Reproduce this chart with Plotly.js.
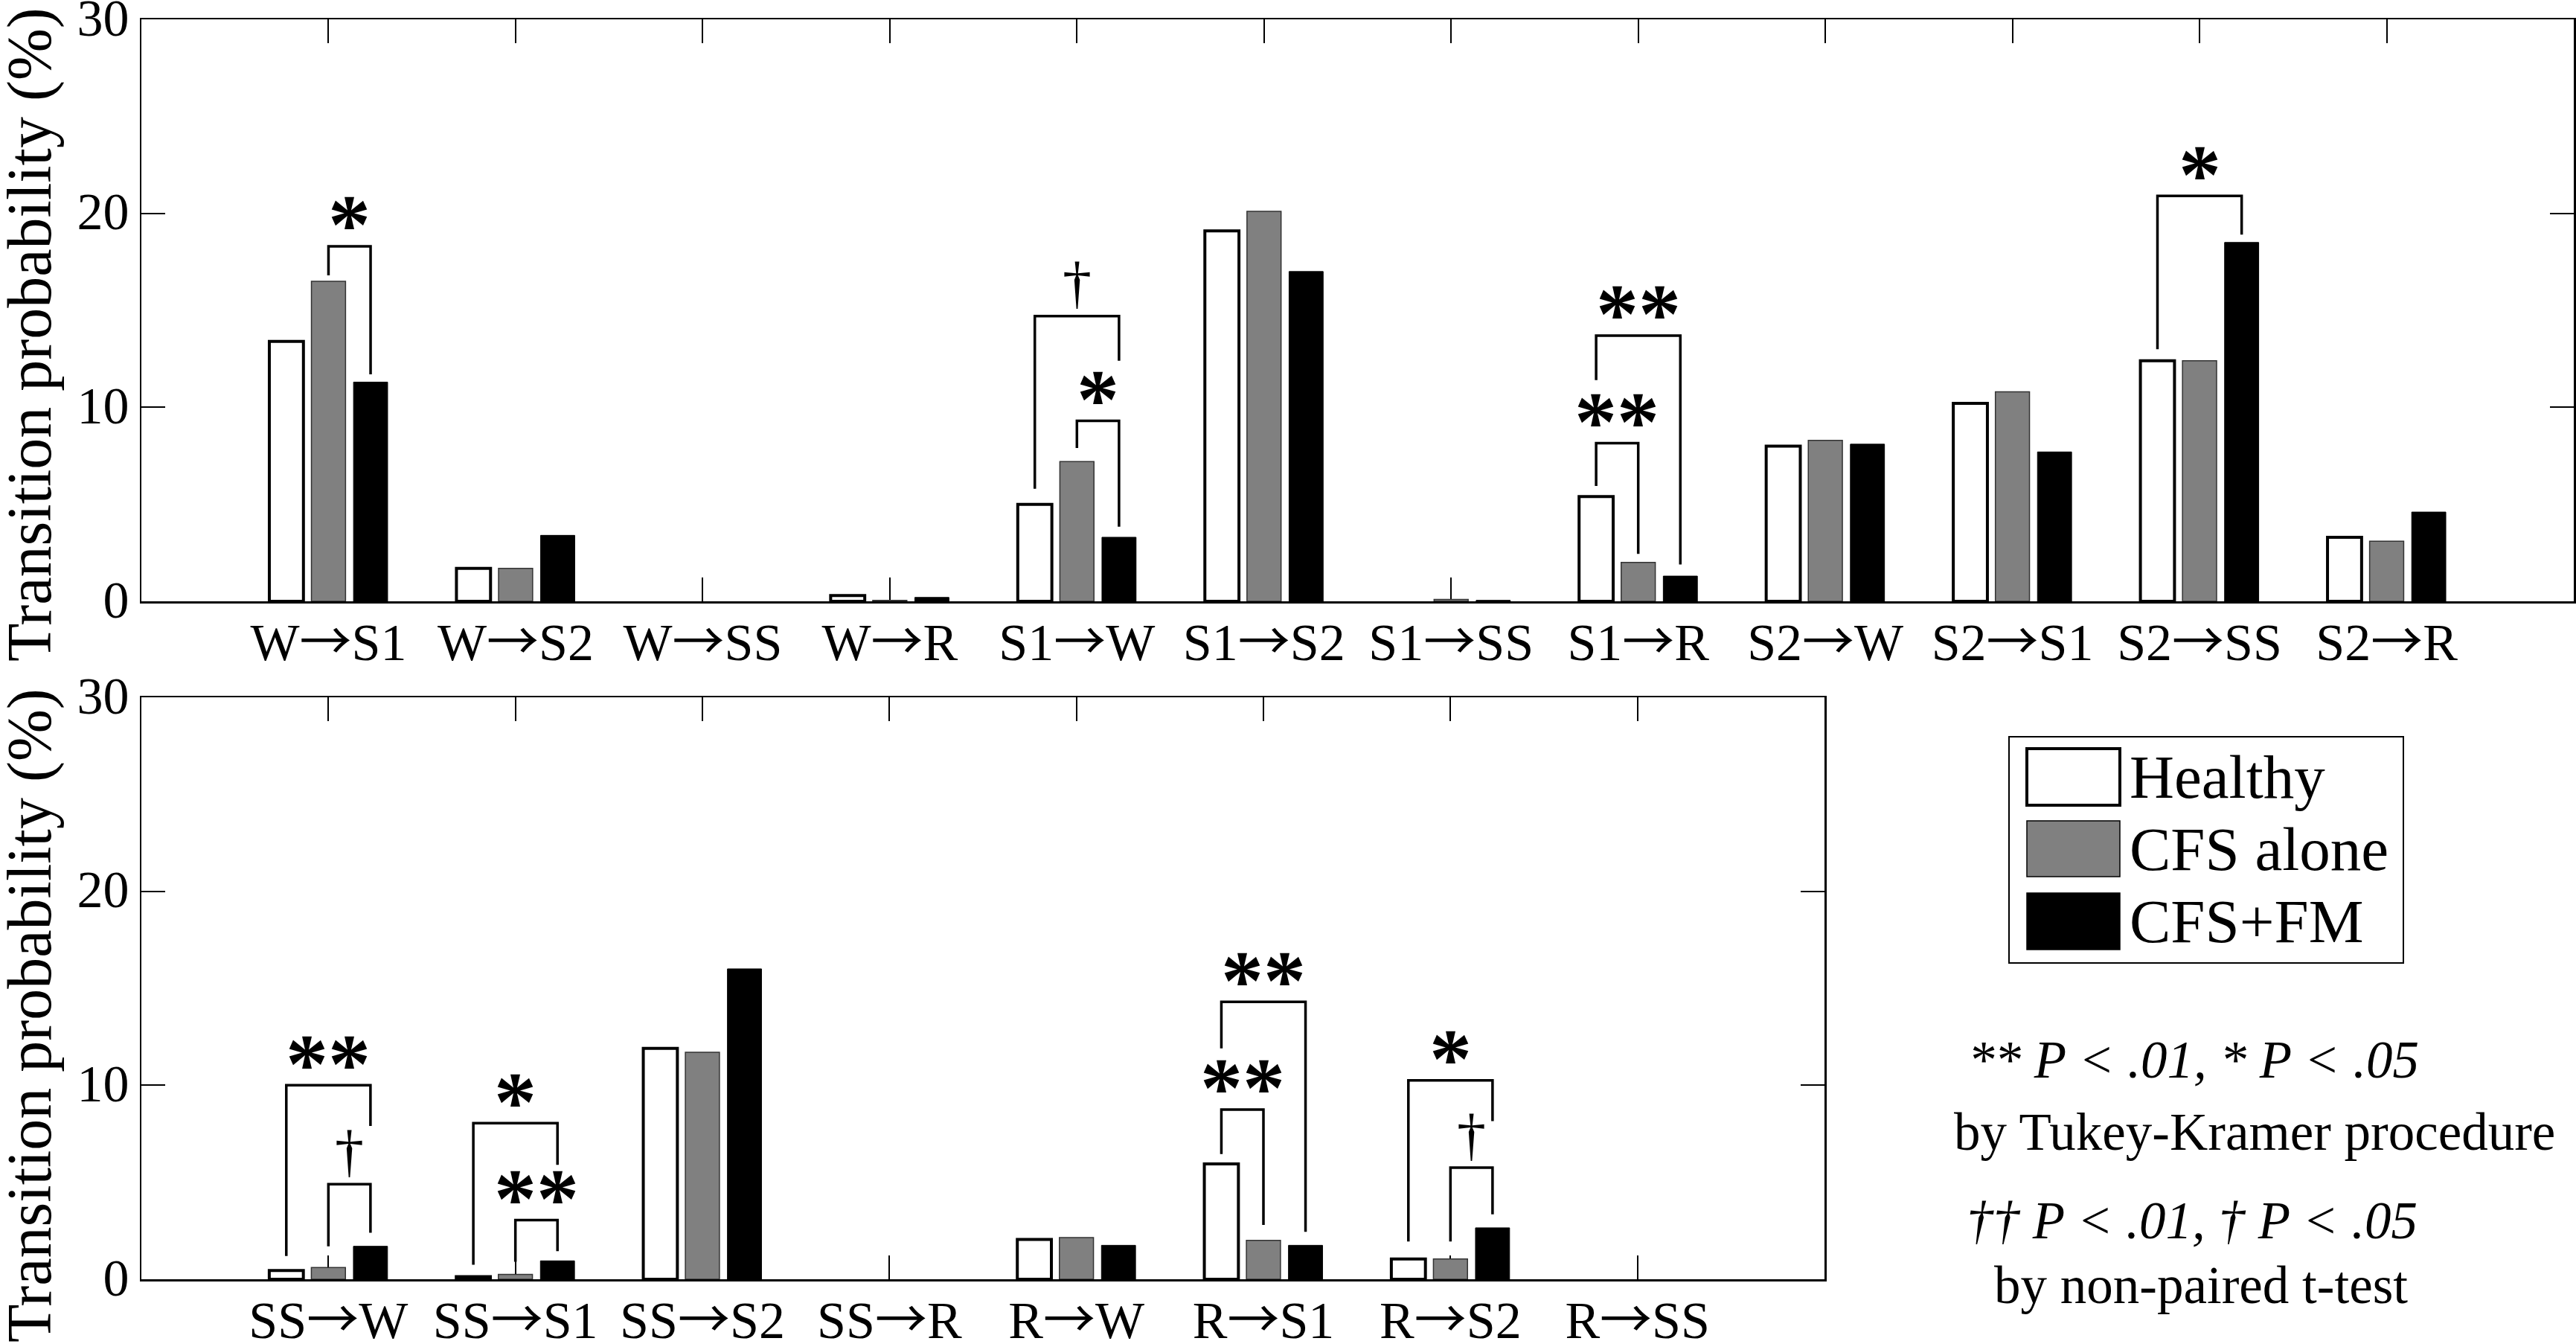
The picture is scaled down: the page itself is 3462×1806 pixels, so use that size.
<!DOCTYPE html>
<html>
<head>
<meta charset="utf-8">
<script src="https://cdn.plot.ly/plotly-3.0.1.min.js"></script>
<style>html,body{margin:0;padding:0;background:#fff;}#chart{width:3462px;height:1806px;}</style>
</head>
<body>
<div id="chart"></div>
<script>
// ---------------- data ----------------
var seriesNames = ['Healthy', 'CFS alone', 'CFS+FM'];

var catsTop = ['W→S1','W→S2','W→SS','W→R','S1→W','S1→S2','S1→SS','S1→R','S2→W','S2→S1','S2→SS','S2→R'];
var healthyTop = [13.4, 1.7, 0, 0.3, 5.0, 19.1, 0, 5.4, 8.0, 10.2, 12.4, 3.3];
var cfsTop     = [16.5, 1.7, 0, 0.05, 7.2, 20.1, 0.1, 2.0, 8.3, 10.8, 12.4, 3.1];
var fmTop      = [11.3, 3.4, 0, 0.2, 3.3, 17.0, 0.05, 1.3, 8.1, 7.7, 18.5, 4.6];

var catsBot = ['SS→W','SS→S1','SS→S2','SS→R','R→W','R→S1','R→S2','R→SS'];
var healthyBot = [0.45, 0.13, 11.9, 0, 2.05, 5.95, 1.05, 0];
var cfsBot     = [0.6, 0.25, 11.7, 0, 2.15, 2.0, 1.05, 0];
var fmBot      = [1.7, 0.95, 16.0, 0, 1.75, 1.75, 2.65, 0];

var yTicks = [0, 10, 20, 30];
var yTitle = 'Transition probability (%)';

// significance brackets: [category, group A, group B, bracket top, end A, end B, label]
var sigTop = [
  ['W→S1', 1, 2, 18.3, 16.8, 11.7, '*'],
  ['S1→W', 0, 2, 14.7, 5.8, 12.4, '†'],
  ['S1→W', 1, 2, 9.3, 7.9, 3.85, '*'],
  ['S1→R', 0, 2, 13.7, 11.4, 1.9, '**'],
  ['S1→R', 0, 1, 8.15, 5.95, 2.45, '**'],
  ['S2→SS', 0, 2, 20.9, 13.0, 18.9, '*']
];
var sigBot = [
  ['SS→W', 0, 2, 10.0, 1.2, 7.9, '**'],
  ['SS→W', 1, 2, 4.9, 1.7, 2.4, '†'],
  ['SS→S1', 0, 2, 8.05, 0.75, 5.9, '*'],
  ['SS→S1', 1, 2, 3.05, 0.9, 1.45, '**'],
  ['R→S1', 0, 2, 14.3, 11.9, 2.45, '**'],
  ['R→S1', 0, 1, 8.75, 6.45, 2.8, '**'],
  ['R→S2', 0, 2, 10.25, 1.95, 8.15, '*'],
  ['R→S2', 1, 2, 5.75, 1.95, 3.35, '†']
];

var notes = [
  '<i>** P &lt; .01, * P &lt; .05</i>',
  'by Tukey-Kramer procedure',
  '<i>†† P &lt; .01, † P &lt; .05</i>',
  'by non-paired t-test'
];

// ---------------- layout helpers ----------------
var W = 3462, H = 1806;
function px(x) { return x / W; }
function py(y) { return 1 - y / H; }
var FONT = 'Liberation Serif, Times New Roman, serif';
var ARROW_FONT = 'Noto Sans CJK JP';

var fills = ['#ffffff', '#808080', '#000000'];
var lineColors = ['#000', '#333', '#000'];
var lineWidths = [4, 1.5, 1];
var BAR_SLOT = 0.225;

function makeBars(cats, arrs, xa, ya) {
  return arrs.map(function (vals, i) {
    return {
      type: 'bar', x: cats, y: vals, name: seriesNames[i],
      xaxis: xa, yaxis: ya, showlegend: false,
      marker: {color: fills[i], line: {color: lineColors[i],
        width: vals.map(function (v) { return v > 0 ? lineWidths[i] : 0; })}},
      hoverinfo: 'x+y+name'
    };
  });
}

var data = []
  .concat(makeBars(catsTop, [healthyTop, cfsTop, fmTop], 'x', 'y'))
  .concat(makeBars(catsBot, [healthyBot, cfsBot, fmBot], 'x2', 'y2'));

var shapes = [];
var annotations = [];

function addBrackets(list, cats, xa, ya) {
  list.forEach(function (s) {
    var ci = cats.indexOf(s[0]);
    var xA = ci + (s[1] - 1) * BAR_SLOT;
    var xB = ci + (s[2] - 1) * BAR_SLOT;
    shapes.push({
      type: 'path', xref: xa, yref: ya,
      path: 'M' + xA + ',' + s[4] + ' L' + xA + ',' + s[3] + ' L' + xB + ',' + s[3] + ' L' + xB + ',' + s[5],
      line: {color: '#000', width: 3.5}
    });
    var isDagger = s[6].indexOf('†') >= 0;
    annotations.push({
      xref: xa, yref: ya, x: (xA + xB) / 2, y: s[3],
      text: isDagger ? s[6] : '<b>' + s[6] + '</b>', showarrow: false, xanchor: 'center', yanchor: 'middle',
      yshift: isDagger ? 45 : 29,
      font: {family: FONT, size: isDagger ? 78 : 114, color: '#000'}
    });
  });
}
addBrackets(sigTop, catsTop, 'x', 'y');
addBrackets(sigBot, catsBot, 'x2', 'y2');

// y axis titles
[450, 1365].forEach(function (yc) {
  annotations.push({
    xref: 'paper', yref: 'paper', x: px(40), y: py(yc),
    text: yTitle, textangle: -90, showarrow: false,
    xanchor: 'center', yanchor: 'middle',
    font: {family: FONT, size: 84, color: '#000'}
  });
});

// legend (drawn)
shapes.push({type: 'rect', xref: 'paper', yref: 'paper',
  x0: px(2700), x1: px(3230), y0: py(990), y1: py(1294),
  line: {color: '#000', width: 2}, fillcolor: 'rgba(0,0,0,0)'});
var legRows = [[1006, 1082], [1103, 1178], [1200, 1276]];
legRows.forEach(function (r, i) {
  shapes.push({type: 'rect', xref: 'paper', yref: 'paper',
    x0: px(2724), x1: px(2849), y0: py(r[0]), y1: py(r[1]),
    fillcolor: fills[i], line: {color: '#000', width: i === 0 ? 4 : 1.5}});
  annotations.push({xref: 'paper', yref: 'paper', x: px(2860), y: py((r[0] + r[1]) / 2),
    text: seriesNames[i], showarrow: false, xanchor: 'left', yanchor: 'middle',
    font: {family: FONT, size: 83, color: '#000'}});
});

// notes
var notePos = [[2948, 1424], [3030, 1521], [2946, 1640], [2958, 1727]];
notes.forEach(function (t, i) {
  annotations.push({xref: 'paper', yref: 'paper', x: px(notePos[i][0]), y: py(notePos[i][1]),
    text: t, showarrow: false, xanchor: 'center', yanchor: 'middle',
    font: {family: FONT, size: 71, color: '#000'}});
});

function tickText(cats) {
  return cats.map(function (c) {
    return c.replace('→', '<span style="font-family:' + ARROW_FONT + ';">→</span>');
  });
}

function xAxis(domain, cats) {
  return {
    domain: domain, type: 'category', range: [-1, cats.length],
    tickvals: cats, ticktext: tickText(cats),
    ticks: 'inside', ticklen: 32, tickwidth: 2, tickcolor: '#000',
    showline: true, linecolor: '#000', linewidth: 2.5, mirror: 'allticks',
    showgrid: false, zeroline: false, layer: 'below traces',
    ticklabelstandoff: -8,
    tickfont: {family: FONT, size: 70, color: '#000'}, fixedrange: true
  };
}
function yAxis(domain, anchor) {
  return {
    domain: domain, anchor: anchor, range: [0, 30], tickvals: yTicks,
    ticks: 'inside', ticklen: 32, tickwidth: 2, tickcolor: '#000',
    showline: true, linecolor: '#000', linewidth: 2.5, mirror: 'allticks',
    showgrid: false, zeroline: false, ticklabeloverflow: 'allow',
    ticklabelshift: -3,
    tickfont: {family: FONT, size: 70, color: '#000'}, fixedrange: true
  };
}

var xa1 = xAxis([px(190), px(3459)], catsTop); xa1.anchor = 'y';
var xa2 = xAxis([px(190), px(2452)], catsBot); xa2.anchor = 'y2';

var layout = {
  width: W, height: H,
  margin: {l: 0, r: 0, t: 0, b: 0},
  paper_bgcolor: '#fff', plot_bgcolor: 'rgba(0,0,0,0)',
  barmode: 'group', bargap: 0.325, bargroupgap: 0.19,
  showlegend: false,
  font: {family: FONT, color: '#000'},
  xaxis: xa1,
  yaxis: yAxis([py(808), py(26)], 'x'),
  xaxis2: xa2,
  yaxis2: yAxis([py(1719), py(937)], 'x2'),
  shapes: shapes,
  annotations: annotations
};

Plotly.newPlot('chart', data, layout, {staticPlot: true, displayModeBar: false});
</script>
</body>
</html>
